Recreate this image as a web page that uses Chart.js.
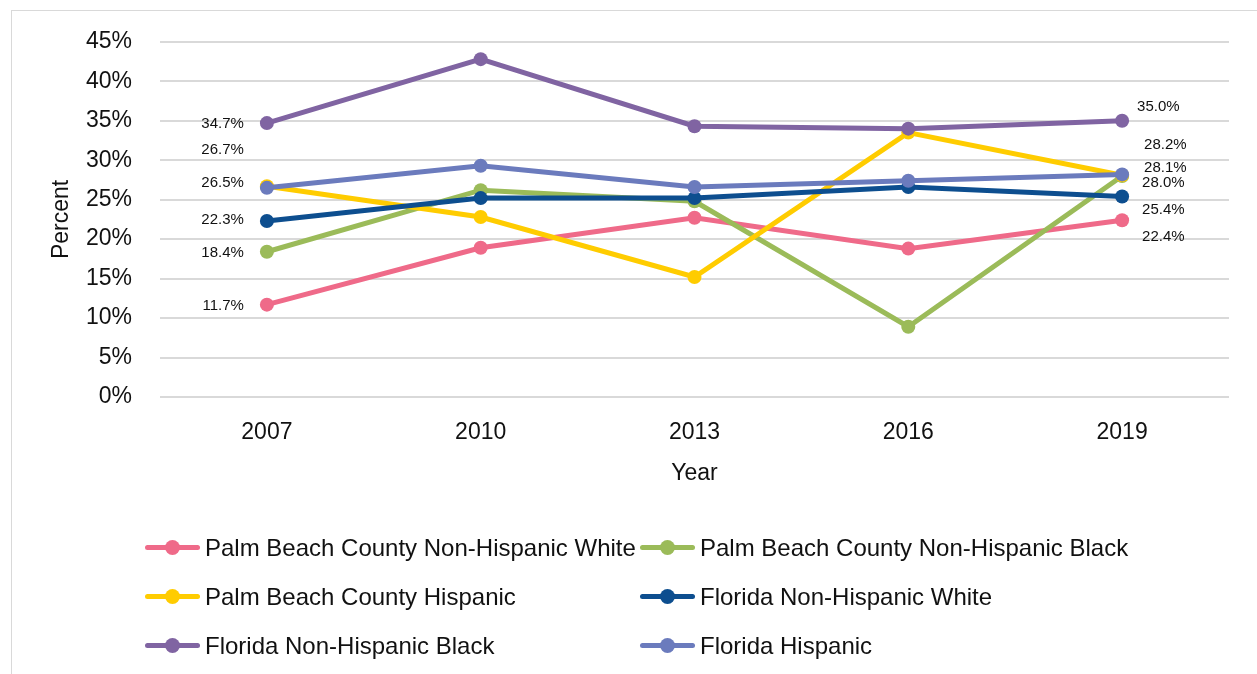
<!DOCTYPE html>
<html>
<head>
<meta charset="utf-8">
<title>Percent by Year</title>
<script src="https://cdn.jsdelivr.net/npm/chart.js"></script>
<style>
  * { margin: 0; padding: 0; box-sizing: border-box; }
  body { background: #fff; width: 1257px; height: 674px; overflow: hidden; position: relative; font-family: 'Liberation Sans', Arial, sans-serif; }
  .frame { position: absolute; left: 11px; top: 10px; width: 1270px; height: 700px; border: 1px solid #d9d9d9; }
  canvas { position: absolute; left: 0; top: 0; }
  .legend { position: absolute; left: 145px; top: 523px; display: grid; grid-template-columns: 495px 495px; }
  .legend .item { display: flex; align-items: center; height: 49px; font-size: 24px; color: #111; white-space: nowrap; }
  .legend .swatch { position: relative; width: 55px; height: 5px; margin-right: 5px; border-radius: 3px; }
  .legend .swatch::after { content: ''; position: absolute; left: 20px; top: -5px; width: 15px; height: 15px; border-radius: 50%; background: inherit; }
</style>
</head>
<body>
<div class="frame"></div>
<canvas id="chart" width="1257" height="674"></canvas>
<div class="legend" id="legend"></div>

<script>
  const years = ['2007', '2010', '2013', '2016', '2019'];
  const pbcWhite = [11.7, 18.9, 22.7, 18.8, 22.4];
  const pbcBlack = [18.4, 26.2, 24.8, 8.9, 28.0];
  const pbcHispanic = [26.7, 22.8, 15.2, 33.5, 28.1];
  const flWhite = [22.3, 25.2, 25.2, 26.6, 25.4];
  const flBlack = [34.7, 42.8, 34.3, 34.0, 35.0];
  const flHispanic = [26.5, 29.3, 26.6, 27.4, 28.2];
  const seriesNames = [
    'Palm Beach County Non-Hispanic White',
    'Palm Beach County Non-Hispanic Black',
    'Palm Beach County Hispanic',
    'Florida Non-Hispanic White',
    'Florida Non-Hispanic Black',
    'Florida Hispanic'
  ];
  const yTicks = [0, 5, 10, 15, 20, 25, 30, 35, 40, 45];

  const colors = ['#ef6a89', '#9bbb59', '#ffcc00', '#0d4e8f', '#8064a2', '#6b7bbd'];
  const seriesData = [pbcWhite, pbcBlack, pbcHispanic, flWhite, flBlack, flHispanic];
  // label nudges from first / last point: [dx, dy]
  const labelOffsets = [
    { left: [-23, 1], right: [20, 17] },
    { left: [-23, 1], right: [20, 7] },
    { left: [-23, -36], right: [22, -7] },
    { left: [-23, -1], right: [20, 13] },
    { left: [-23, 1], right: [15, -14] },
    { left: [-23, -5], right: [22, -30] }
  ];
  const FONT = "'Liberation Sans', Arial, sans-serif";

  const endLabels = {
    id: 'endLabels',
    afterDatasetsDraw(chart) {
      const ctx = chart.ctx;
      ctx.save();
      ctx.font = '15px ' + FONT;
      ctx.fillStyle = '#111';
      ctx.textBaseline = 'middle';
      chart.data.datasets.forEach((ds, i) => {
        const pts = chart.getDatasetMeta(i).data;
        const first = pts[0], last = pts[pts.length - 1];
        const off = labelOffsets[i];
        ctx.textAlign = 'right';
        ctx.fillText(ds.data[0].toFixed(1) + '%', first.x + off.left[0], first.y + off.left[1]);
        ctx.textAlign = 'left';
        ctx.fillText(ds.data[ds.data.length - 1].toFixed(1) + '%', last.x + off.right[0], last.y + off.right[1]);
      });
      ctx.restore();
    }
  };

  const ctx = document.getElementById('chart').getContext('2d');
  new Chart(ctx, {
    type: 'line',
    data: {
      labels: years,
      datasets: seriesNames.map((name, i) => ({
        label: name,
        data: seriesData[i],
        borderColor: colors[i],
        backgroundColor: colors[i],
        pointBackgroundColor: colors[i],
        pointBorderWidth: 0,
        pointRadius: 7,
        borderWidth: 5,
        tension: 0,
        fill: false,
        order: seriesNames.length - i
      }))
    },
    options: {
      responsive: false,
      animation: false,
      devicePixelRatio: 1,
      layout: { padding: { left: 0, right: 28, top: 39, bottom: 177 } },
      scales: {
        x: {
          offset: true,
          grid: { display: false, drawTicks: false },
          border: { display: false },
          ticks: { color: '#111', font: { family: FONT, size: 23 }, padding: 22 },
          title: { display: true, text: 'Year', color: '#111', font: { family: FONT, size: 23 }, padding: { top: 0, bottom: 10 } },
          afterFit: s => { s.height = 100; }
        },
        y: {
          min: 0,
          max: 45,
          afterBuildTicks: s => { s.ticks = yTicks.map(v => ({ value: v })); },
          grid: { color: '#d9d9d9', lineWidth: 2, drawTicks: false },
          border: { display: false },
          ticks: { color: '#111', font: { family: FONT, size: 23 }, padding: 28, callback: v => v + '%' },
          title: { display: true, text: 'Percent', color: '#111', font: { family: FONT, size: 23 }, padding: { top: 48, bottom: 0 } },
          afterFit: s => { s.width = 160; }
        }
      },
      plugins: {
        legend: { display: false },
        tooltip: { enabled: false }
      }
    },
    plugins: [endLabels]
  });

  const legend = document.getElementById('legend');
  seriesNames.forEach((name, i) => {
    const item = document.createElement('div');
    item.className = 'item';
    const sw = document.createElement('span');
    sw.className = 'swatch';
    sw.style.background = colors[i];
    item.appendChild(sw);
    item.appendChild(document.createTextNode(name));
    legend.appendChild(item);
  });
</script>
</body>
</html>
